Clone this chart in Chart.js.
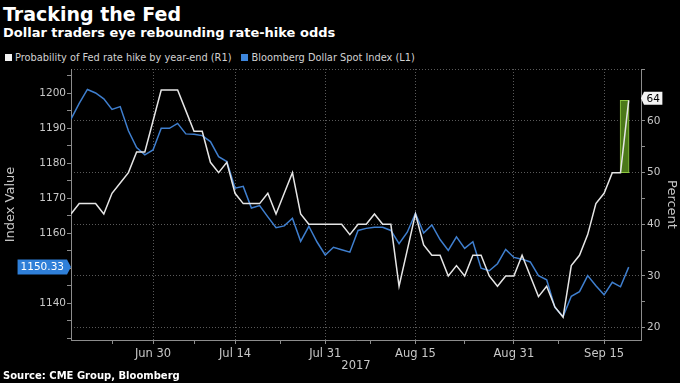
<!DOCTYPE html>
<html lang="en">
<head>
<meta charset="UTF-8">
<title>Tracking the Fed</title>
<script src="https://cdn.jsdelivr.net/npm/chart.js"></script>
<style>
    html, body { margin: 0; padding: 0; background: #000; }
    body {
        width: 680px; height: 383px; position: relative; overflow: hidden;
        font-family: "DejaVu Sans", sans-serif; color: #fff;
    }
    canvas { position: absolute; left: 0; top: 0; }
    .title { position: absolute; left: 3px; top: 5px; font-size: 19px; line-height: 19px; font-weight: bold; }
    .subtitle { position: absolute; left: 3px; top: 26px; font-size: 13px; line-height: 13px; font-weight: bold; }
    #legend { position: absolute; left: 5px; top: 52px; font-size: 9.8px; line-height: 11px; color: #d2d2d2; white-space: nowrap; }
    #legend .item { margin-right: 10px; }
    #legend i { display: inline-block; width: 7px; height: 7px; margin-right: 3px; }
    .source { position: absolute; left: 3px; top: 371px; font-size: 10px; line-height: 10px; font-weight: bold; }
</style>
</head>
<body>
    <div class="title">Tracking the Fed</div>
    <div class="subtitle">Dollar traders eye rebounding rate-hike odds</div>
    <div id="legend"></div>
    <canvas id="chart" width="680" height="383"></canvas>
    <div class="source">Source: CME Group, Bloomberg</div>

<script>
// trading days shown on the chart
const dates = [
    'Jun 16', 'Jun 19', 'Jun 20', 'Jun 21', 'Jun 22', 'Jun 23', 'Jun 26', 'Jun 27', 'Jun 28', 'Jun 29',
    'Jun 30', 'Jul 3', 'Jul 4', 'Jul 5', 'Jul 6', 'Jul 7', 'Jul 10', 'Jul 11', 'Jul 12', 'Jul 13',
    'Jul 14', 'Jul 17', 'Jul 18', 'Jul 19', 'Jul 20', 'Jul 21', 'Jul 24', 'Jul 25', 'Jul 26', 'Jul 27',
    'Jul 28', 'Jul 31', 'Aug 1', 'Aug 2', 'Aug 3', 'Aug 4', 'Aug 7', 'Aug 8', 'Aug 9', 'Aug 10',
    'Aug 11', 'Aug 14', 'Aug 15', 'Aug 16', 'Aug 17', 'Aug 18', 'Aug 21', 'Aug 22', 'Aug 23', 'Aug 24',
    'Aug 25', 'Aug 28', 'Aug 29', 'Aug 30', 'Aug 31', 'Sep 1', 'Sep 4', 'Sep 5', 'Sep 6', 'Sep 7',
    'Sep 8', 'Sep 11', 'Sep 12', 'Sep 13', 'Sep 14', 'Sep 15', 'Sep 18', 'Sep 19', 'Sep 20'
];
const tickDates = ['Jun 30', 'Jul 14', 'Jul 31', 'Aug 15', 'Aug 31', 'Sep 15'];
const yearLabel = '2017';

const probName = 'Probability of Fed rate hike by year-end (R1)';
const probValues = [
    42, 44, 44, 44, 42, 46, 48, 50, 54, 54,
    60, 66, 66, 66, 62, 58, 58, 52, 50, 52,
    46, 44, 44, 44, 46, 42, 46, 50, 42, 40,
    40, 40, 40, 40, 38, 40, 40, 42, 40, 40,
    28, 35, 42, 36, 34, 34, 30, 32, 30, 34,
    34, 30, 28, 30, 30, 34, 30, 26, 28, 24,
    22, 32, 34, 38, 44, 46, 50, 50, 64
];

const dollarName = 'Bloomberg Dollar Spot Index (L1)';
const dollarValues = [
    1192.6, 1197.1, 1201.1, 1200.1, 1198.4, 1195.4, 1196.2, 1189.3, 1184.5, 1182.4,
    1183.8, 1190.0, 1190.0, 1191.4, 1188.4, 1188.3, 1187.9, 1186.2, 1181.9, 1180.5,
    1172.9, 1173.4, 1167.2, 1167.9, 1164.7, 1161.6, 1162.1, 1164.3, 1157.7, 1162.0,
    1157.5, 1153.8, 1156.0, 1155.3, 1154.6, 1160.8, 1161.4, 1161.7, 1161.7, 1160.8,
    1157.0, 1160.3, 1165.7, 1160.1, 1162.4, 1158.2, 1155.1, 1159.0, 1155.7, 1157.6,
    1150.0, 1149.3, 1151.3, 1155.4, 1153.1, 1152.6, 1151.8, 1147.9, 1146.7, 1138.8,
    1136.2, 1142.0, 1143.3, 1147.9, 1145.0, 1142.4, 1146.0, 1144.7, 1150.33
];

const leftLabels = [1140, 1150, 1160, 1170, 1180, 1190, 1200];
const rightLabels = [20, 30, 40, 50, 60];

const probColor = '#e6e6e6';
const dollarColor = '#3f7fcf';

// legend
document.getElementById('legend').innerHTML =
    [[probName, '#f2f2f2'], [dollarName, '#3d86dc']]
        .map(([name, c]) => `<span class="item"><i style="background:${c}"></i>${name}</span>`)
        .join('');

const n = dates.length;
const majorIdx = tickDates.map(d => dates.indexOf(d));
const minorIdx = [majorIdx[0] - (majorIdx[1] - majorIdx[0]) / 2];
for (let i = 1; i < majorIdx.length; i++) minorIdx.push((majorIdx[i - 1] + majorIdx[i]) / 2);
const xTicks = majorIdx.concat(minorIdx).sort((a, b) => a - b);

const probPts = probValues.map((v, i) => ({ x: i, y: v }));
const dollarPts = dollarValues.map((v, i) => ({ x: i, y: v }));
// latest jump in the probability, highlighted as a bar
const jump = [{ x: n - 1.5, y: [probValues[n - 2], probValues[n - 1]] }];

Chart.defaults.font.family = '"DejaVu Sans", sans-serif';
Chart.defaults.color = '#c8c8c8';

const tickFont = { size: 10.5 };
const xFont = { size: 11.5 };
const gridColor = '#5a5a5a';
const axisColor = '#8c8c8c';

const lastLabels = {
    id: 'lastLabels',
    afterDatasetsDraw(chart) {
        const { ctx, scales } = chart;
        ctx.save();
        ctx.font = '10.5px "DejaVu Sans"';
        ctx.textBaseline = 'middle';

        // blue value tag on the left axis
        const dv = dollarValues[n - 1];
        const dy = scales.y.getPixelForValue(dv);
        const dtxt = dv.toFixed(2);
        const dw = ctx.measureText(dtxt).width + 6;
        const xr = scales.y.right - 4;
        ctx.fillStyle = '#2f7fd8';
        ctx.beginPath();
        ctx.moveTo(xr - dw, dy - 7.5);
        ctx.lineTo(xr, dy - 7.5);
        ctx.lineTo(xr + 4, dy);
        ctx.lineTo(xr, dy + 7.5);
        ctx.lineTo(xr - dw, dy + 7.5);
        ctx.closePath();
        ctx.fill();
        ctx.fillStyle = '#fff';
        ctx.textAlign = 'left';
        ctx.fillText(dtxt, xr - dw + 3, dy + 0.5);

        // white value tag on the right axis
        const pv = probValues[n - 1];
        const py = scales.y1.getPixelForValue(pv) - 2;
        const ptxt = String(pv);
        const pw = ctx.measureText(ptxt).width + 5;
        const xl = scales.y1.left + 3;
        ctx.fillStyle = '#f4f4f4';
        ctx.beginPath();
        ctx.moveTo(xl, py - 6.5);
        ctx.lineTo(xl + pw, py - 6.5);
        ctx.lineTo(xl + pw, py + 6.5);
        ctx.lineTo(xl, py + 6.5);
        ctx.lineTo(xl - 3, py);
        ctx.closePath();
        ctx.fill();
        ctx.fillStyle = '#000';
        ctx.fillText(ptxt, xl + 2.5, py + 0.5);
        ctx.restore();
    }
};

new Chart(document.getElementById('chart'), {
    type: 'line',
    data: {
        datasets: [
            {
                label: probName, data: probPts, yAxisID: 'y1',
                borderColor: probColor, borderWidth: 1.5, pointRadius: 0, tension: 0, order: 1
            },
            {
                label: dollarName, data: dollarPts, yAxisID: 'y',
                borderColor: dollarColor, borderWidth: 1.5, pointRadius: 0, tension: 0, order: 2
            },
            {
                type: 'bar', label: 'jump', data: jump, yAxisID: 'y1',
                backgroundColor: '#4b7818', borderColor: '#8cc63f', borderWidth: 1,
                borderSkipped: false, barThickness: 9, grouped: false, order: 3
            }
        ]
    },
    options: {
        responsive: false,
        animation: false,
        layout: { padding: { top: 69, left: 0, right: 0, bottom: 0 } },
        plugins: { legend: { display: false }, tooltip: { enabled: false } },
        scales: {
            x: {
                type: 'linear', min: 0, max: 69.5, offset: false,
                afterBuildTicks: s => { s.ticks = xTicks.map(v => ({ value: v })); },
                afterFit: s => { s.height = 43; },
                ticks: {
                    autoSkip: false, maxRotation: 0, padding: 3, font: xFont,
                    callback: v => majorIdx.includes(v) ? dates[v] : ''
                },
                grid: {
                    offset: false,
                    color: c => majorIdx.includes(c.tick.value) ? gridColor : 'transparent',
                    tickColor: axisColor, tickLength: 4
                },
                border: { color: axisColor, dash: [1, 2] },
                title: { display: true, text: yearLabel, font: xFont, padding: { top: 0, bottom: 10 } }
            },
            y: {
                position: 'left', min: 1129.5, max: 1206.94,
                afterBuildTicks: s => {
                    const t = [];
                    for (let v = 1130; v <= 1205; v += 5) t.push({ value: v });
                    s.ticks = t;
                },
                afterFit: s => { s.width = 71; },
                ticks: { padding: 1, font: tickFont, callback: v => leftLabels.includes(v) ? v : '' },
                grid: { drawOnChartArea: false, tickColor: axisColor, tickLength: 4 },
                border: { color: axisColor },
                title: { display: true, text: 'Index Value', font: { size: 13 }, padding: { top: 3 } }
            },
            y1: {
                position: 'right', min: 17.6, max: 70.06,
                afterBuildTicks: s => {
                    const t = [];
                    for (let v = 20; v <= 70; v += 5) t.push({ value: v });
                    s.ticks = t;
                },
                afterFit: s => { s.width = 39; },
                ticks: { padding: 2, font: tickFont, callback: v => rightLabels.includes(v) ? v : '' },
                grid: {
                    color: c => c.tick && c.tick.value % 10 === 0 ? gridColor : 'transparent',
                    tickColor: axisColor, tickLength: 4
                },
                border: { color: axisColor, dash: [1, 2] },
                title: { display: true, text: 'Percent', font: { size: 13 }, padding: { top: 1 } }
            }
        }
    },
    plugins: [lastLabels]
});
</script>
</body>
</html>
